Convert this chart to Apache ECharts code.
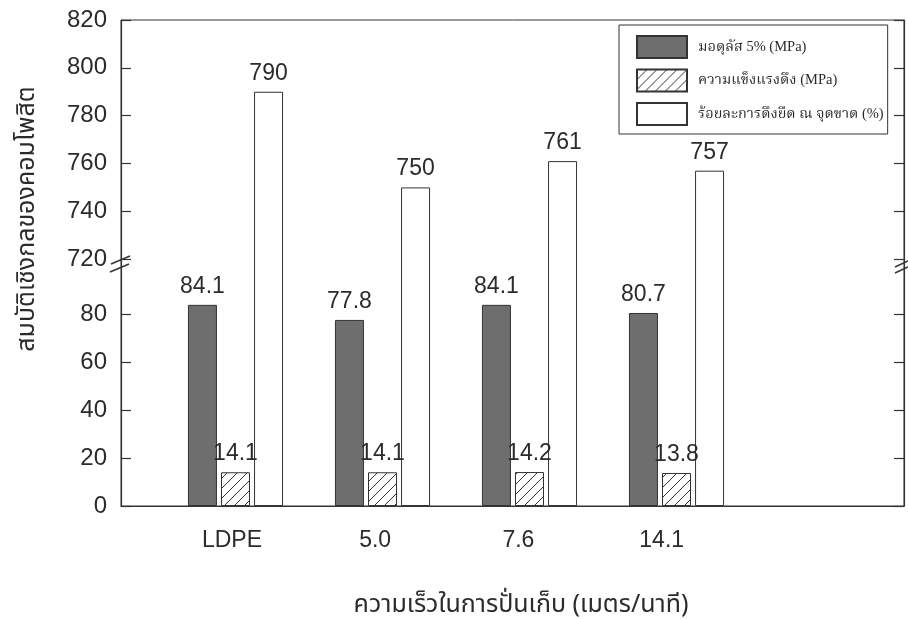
<!DOCTYPE html>
<html>
<head>
<meta charset="utf-8">
<script src="https://cdn.jsdelivr.net/npm/echarts@6/dist/echarts.min.js"></script>
<style>
  html, body { margin: 0; padding: 0; background: #ffffff; }
  #chart { width: 908px; height: 619px; }
</style>
</head>
<body>
<div id="chart"></div>
<script>
// ---- data ----
const categories = ['LDPE', '5.0', '7.6', '14.1'];
const seriesNames = ['มอดุลัส 5% (MPa)', 'ความแข็งแรงดึง (MPa)', 'ร้อยละการดึงยืด ณ จุดขาด (%)'];
const modulus = [84.1, 77.8, 84.1, 80.7];
const tensile = [14.1, 14.1, 14.2, 13.8];
const elongation = [790, 750, 761, 757];
const lowTicks = [0, 20, 40, 60, 80];
const highTicks = [720, 740, 760, 780, 800, 820];
const yTitle = 'สมบัติเชิงกลของคอมโพสิต';
const xTitle = 'ความเร็วในการปั่นเก็บ (เมตร/นาที)';

// ---- broken axis scale ----
const BREAK_LOW = 80, BREAK_HIGH = 720, GAP = 23.2;
const toAxis = v => v >= BREAK_HIGH ? v - BREAK_HIGH + BREAK_LOW + GAP : v;
const fromAxis = d => d > BREAK_LOW + GAP / 2 ? d - BREAK_LOW - GAP + BREAK_HIGH : d;
const Y_MAX = toAxis(highTicks[highTicks.length - 1]);
const tickVals = lowTicks.concat(highTicks).map(toAxis);

const TXT = '#2b2b2b';
const NUM_FONT = '"Liberation Sans", Arial, sans-serif';
const THAI_FONT = '"Noto Sans Thai", "Noto Sans", "DejaVu Sans", sans-serif';
const LEG_FONT = '"Liberation Serif", "Noto Serif Thai", "Noto Sans Thai", serif';

function hatchPattern() {
  const s = 10;
  const c = document.createElement('canvas');
  c.width = s; c.height = s;
  const g = c.getContext('2d');
  g.fillStyle = '#ffffff'; g.fillRect(0, 0, s, s);
  g.strokeStyle = '#333333'; g.lineWidth = 1;
  g.beginPath();
  g.moveTo(0, s); g.lineTo(s, 0);
  g.moveTo(-2, 2); g.lineTo(2, -2);
  g.moveTo(s - 2, s + 2); g.lineTo(s + 2, s - 2);
  g.stroke();
  return { image: c, repeat: 'repeat' };
}

const gridTop = 20, gridBottom = 113;
const chart = echarts.init(document.getElementById('chart'), null, { renderer: 'canvas' });

function barLabel(arr, digits) {
  return {
    show: true, position: 'top', distance: 7,
    fontSize: 23, color: TXT, fontFamily: NUM_FONT,
    formatter: p => arr[p.dataIndex].toFixed(digits)
  };
}

const option = {
  backgroundColor: '#ffffff',
  animation: false,
  grid: [
    { left: 121, right: 4, top: gridTop, bottom: gridBottom, outerBoundsMode: 'none', containLabel: false,
      show: true, borderColor: '#333', borderWidth: 1, backgroundColor: 'transparent' },
    { left: 162, width: 588, top: gridTop, bottom: gridBottom, outerBoundsMode: 'none', containLabel: false },
    { left: 160.3, width: 573, top: gridTop, bottom: gridBottom, outerBoundsMode: 'none', containLabel: false }
  ],
  xAxis: [
    { gridIndex: 0, type: 'value', min: 0, max: 1,
      axisLine: { show: true, lineStyle: { color: '#333', width: 1.2 } },
      axisTick: { show: false }, axisLabel: { show: false }, splitLine: { show: false },
      name: xTitle, nameLocation: 'middle', nameGap: 88,
      nameTextStyle: { fontSize: 25, color: TXT, fontFamily: THAI_FONT, padding: [0, 0, 0, 17] } },
    { gridIndex: 1, type: 'category', data: categories,
      axisLine: { show: false }, axisTick: { show: false }, axisLabel: { show: false } },
    { gridIndex: 2, type: 'category', data: categories,
      axisLine: { show: false }, axisTick: { show: false },
      axisLabel: { show: true, margin: 23, fontSize: 23, color: TXT, fontFamily: NUM_FONT } }
  ],
  yAxis: [
    { gridIndex: 0, type: 'value', position: 'left', min: 0, max: Y_MAX,
      axisLine: { show: true, lineStyle: { color: '#333', width: 1.2 } },
      axisTick: { show: true, inside: true, length: 10, customValues: tickVals, lineStyle: { color: '#333', width: 1.2 } },
      axisLabel: { show: true, margin: 14, fontSize: 24, color: TXT, fontFamily: NUM_FONT, customValues: tickVals,
        formatter: v => String(Math.round(fromAxis(v))) },
      splitLine: { show: false },
      name: yTitle, nameLocation: 'middle', nameRotate: 90, nameGap: 80,
      nameTextStyle: { fontSize: 25, color: TXT, fontFamily: THAI_FONT, padding: [0, 0, 0, 88] } },
    { gridIndex: 0, type: 'value', position: 'right', min: 0, max: Y_MAX,
      axisLine: { show: true, lineStyle: { color: '#333', width: 1.2 } },
      axisTick: { show: true, inside: true, length: 10, customValues: tickVals, lineStyle: { color: '#333', width: 1.2 } },
      axisLabel: { show: false }, splitLine: { show: false } },
    { gridIndex: 1, type: 'value', min: 0, max: Y_MAX, show: false },
    { gridIndex: 2, type: 'value', min: 0, max: Y_MAX, show: false }
  ],
  legend: {
    orient: 'vertical', left: 619, top: 25,
    itemWidth: 50, itemHeight: 22, itemGap: 9.5,
    padding: [10, 4, 8, 17],
    borderColor: '#333', borderWidth: 1, backgroundColor: '#ffffff',
    icon: 'rect',
    textStyle: { fontSize: 14.5, color: TXT, fontFamily: LEG_FONT, padding: [0, 0, 0, 6] },
    data: seriesNames
  },
  series: [
    { name: seriesNames[0], type: 'bar', xAxisIndex: 1, yAxisIndex: 2,
      barWidth: 29, barGap: '14%',
      data: modulus.map(toAxis),
      itemStyle: { color: '#6e6e6e', borderColor: '#333', borderWidth: 1 },
      label: barLabel(modulus, 1) },
    { name: seriesNames[1], type: 'bar', xAxisIndex: 1, yAxisIndex: 2,
      barWidth: 29, barGap: '14%',
      data: tensile.map(toAxis),
      itemStyle: { color: hatchPattern(), borderColor: '#333', borderWidth: 1 },
      label: barLabel(tensile, 1) },
    { name: seriesNames[2], type: 'bar', xAxisIndex: 1, yAxisIndex: 2,
      barWidth: 29, barGap: '14%',
      data: elongation.map(toAxis),
      itemStyle: { color: '#ffffff', borderColor: '#333', borderWidth: 1 },
      label: barLabel(elongation, 0) }
  ],
  graphic: [
    { type: 'line', shape: { x1: 111, y1: 264, x2: 130, y2: 256 }, style: { stroke: '#333', lineWidth: 1.5 }, z: 100 },
    { type: 'line', shape: { x1: 110, y1: 272, x2: 129, y2: 264 }, style: { stroke: '#333', lineWidth: 1.5 }, z: 100 },
    { type: 'line', shape: { x1: 895, y1: 267, x2: 908, y2: 261 }, style: { stroke: '#333', lineWidth: 1.5 }, z: 100 },
    { type: 'line', shape: { x1: 895, y1: 273, x2: 908, y2: 267 }, style: { stroke: '#333', lineWidth: 1.5 }, z: 100 }
  ]
};
chart.setOption(option);
</script>
</body>
</html>
